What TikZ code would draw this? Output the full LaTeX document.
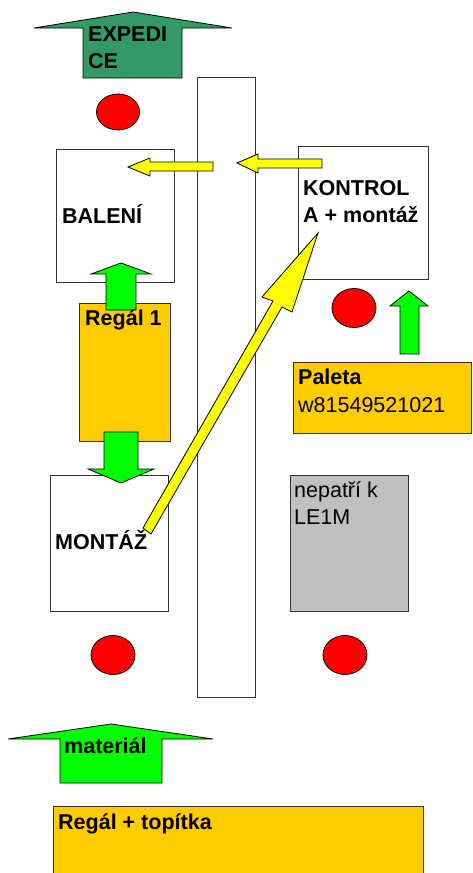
\documentclass[tikz,border=0pt]{standalone}
\usepackage{fontspec}
\setmainfont{Liberation Sans}
\usetikzlibrary{positioning}

\definecolor{expgreen}{HTML}{339966}
\definecolor{matgreen}{HTML}{00FF00}
\definecolor{shelf}{HTML}{FFCC00}
\definecolor{flow}{HTML}{FFFF00}
\definecolor{stop}{HTML}{FF0000}
\definecolor{other}{HTML}{C0C0C0}

\tikzset{
	station/.style={draw=black!80,line width=1pt,fill=white},
	shelfbox/.style={station,fill=shelf},
	blockarrow/.style={draw=black,line width=0.8pt,line join=miter},
	marker/.style={draw=black,line width=0.8pt,fill=stop},
	lbl/.style={anchor=base west,inner sep=0pt,align=left,
		font=\fontsize{21.5}{27}\selectfont\bfseries},
	plainlbl/.style={lbl,font=\fontsize{21.5}{27}\selectfont}
}

\begin{document}
\begin{tikzpicture}[x=1pt,y=-1pt]
	\useasboundingbox (0,0) rectangle (472,873);

	% conveyor
	\draw[station] (197,77) rectangle (255,697);

	% work places and shelves
	\draw[station]  (56,149)  rectangle (174,282);
	\draw[station]  (298,146) rectangle (428,279);
	\draw[shelfbox] (79,303)  rectangle (170,441);
	\draw[station]  (50,475)  rectangle (168,611);
	\draw[shelfbox] (293,362) rectangle (471,433);
	\draw[station,fill=other] (290,475) rectangle (408,611);
	\draw[shelfbox] (53,806)  rectangle (423,890);

	% stop markers
	\draw[marker] (118,112) ellipse [x radius=21.5,y radius=18];
	\draw[marker] (354,308) ellipse [x radius=22,y radius=19.5];
	\draw[marker] (113,655) ellipse [x radius=22,y radius=19.5];
	\draw[marker] (345,655) ellipse [x radius=22,y radius=19.5];

	% block arrows
	\draw[blockarrow,fill=expgreen] (83,78) -- (83,28) -- (34,28) -- (133,12)
		-- (232,28) -- (182,28) -- (182,78) -- cycle;
	\draw[blockarrow,fill=matgreen] (60,783) -- (60,739) -- (8,739) -- (111,724)
		-- (213,739) -- (162,739) -- (162,783) -- cycle;
	\draw[blockarrow,fill=matgreen] (106,310) -- (106,274) -- (91,274) -- (121,263)
		-- (151,274) -- (136,274) -- (136,310) -- cycle;
	\draw[blockarrow,fill=matgreen] (104,432) -- (104,469) -- (88,469) -- (121,483)
		-- (154,469) -- (138,469) -- (138,432) -- cycle;
	\draw[blockarrow,fill=matgreen] (400,354) -- (400,306) -- (390,306) -- (409,291)
		-- (428,306) -- (419,306) -- (419,354) -- cycle;
	\draw[blockarrow,fill=flow] (213,162) -- (150,162) -- (150,158) -- (128,167)
		-- (150,176) -- (150,171) -- (213,171) -- cycle;
	\draw[blockarrow,fill=flow] (322,159) -- (258,159) -- (258,154) -- (237,163)
		-- (258,173) -- (258,168) -- (322,168) -- cycle;
	\draw[blockarrow,fill=flow] (143,528) -- (273,301) -- (262,297) -- (318,233)
		-- (292,312) -- (282,307) -- (151,534) -- cycle;

	% labels (two-line ones sit on their last baseline)
	\node[lbl] (expedice) at (88,68)  {EXPEDI\\CE};
	\node[lbl] (baleni)   at (62,223) {BALENÍ};
	\node[lbl] (kontrola) at (303,222) {KONTROL\\A + montáž};
	\node[lbl] (regal)    at (85,325) {Regál 1};
	\node[lbl] (paleta)   at (298,384) {Paleta};
	\node[plainlbl] (kod) at (298,412) {w81549521021};
	\node[lbl] (montaz)   at (55,549) {MONTÁŽ};
	\node[plainlbl] (cizi) at (294,524) {nepatří k\\LE1M};
	\node[lbl] (material) at (64,753) {materiál};
	\node[lbl] (topitka)  at (58,829) {Regál + topítka};
\end{tikzpicture}
\end{document}
